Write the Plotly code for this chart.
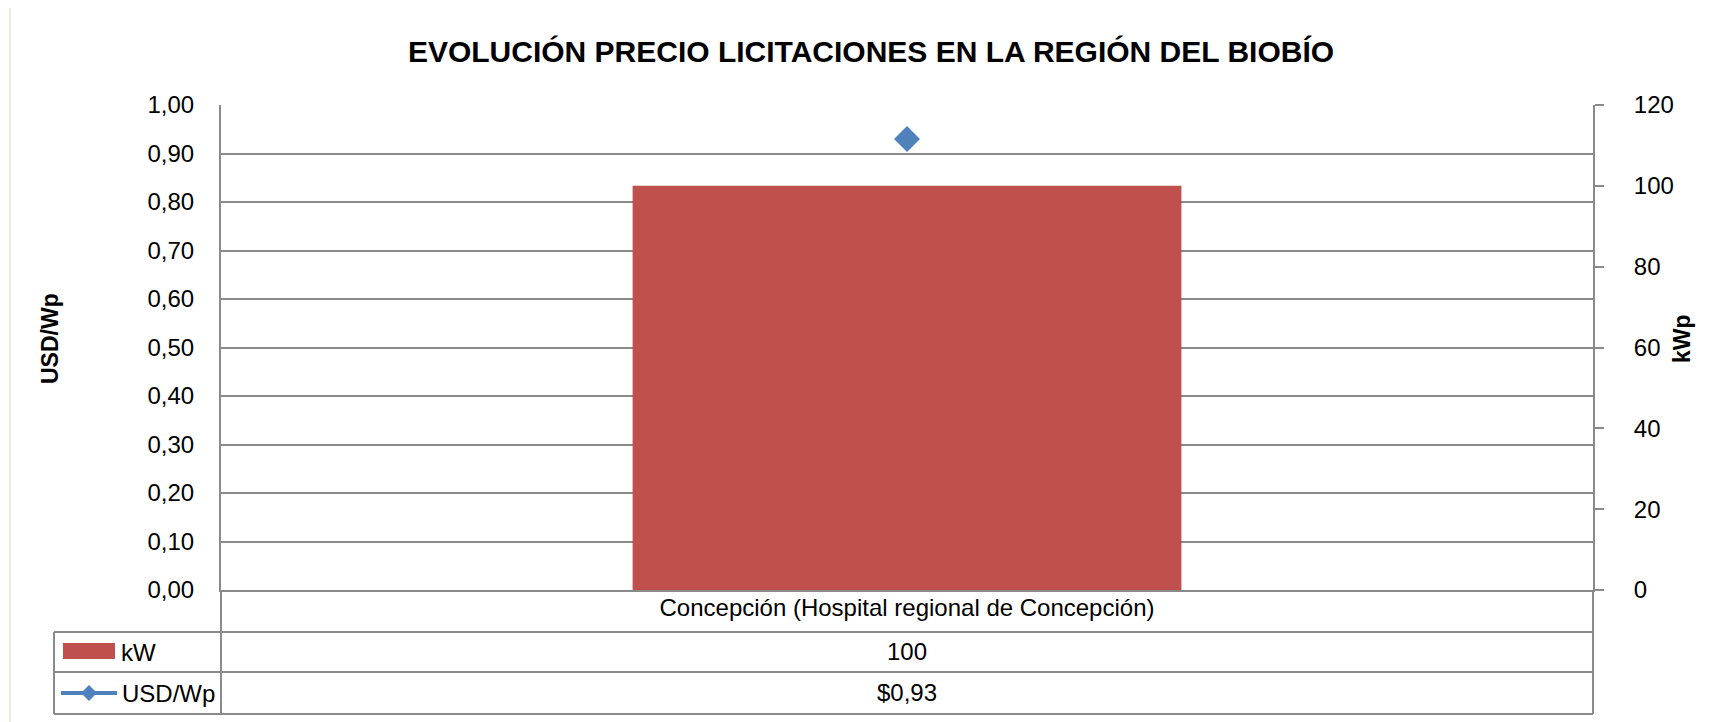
import plotly.graph_objects as go

# datos
categorias = ["Concepción (Hospital regional de Concepción)"]
potencia_kw = [100]
precio_usd_wp = [0.93]

titulo = "EVOLUCIÓN PRECIO LICITACIONES EN LA REGIÓN DEL BIOBÍO"

ROJO = "#C0504D"
AZUL = "#4F81BD"
GRIS = "#8A8A8A"
FUENTE = "Liberation Sans, Arial, sans-serif"

# el body de la pagina deja 8 px de margen
OFF = 8
W, H = 1728 - OFF, 722 - OFF
X0, X1 = 221, 1593   # area de trazado en px de la referencia
Y0, Y1 = 105, 590


def px_x(px):
    return (px - X0) / (X1 - X0)


def px_y(py):
    return (Y1 - py) / (Y1 - Y0)


fig = go.Figure()

fig.add_trace(go.Bar(
    x=categorias, y=potencia_kw, name="kW", yaxis="y2",
    marker=dict(color=ROJO, line=dict(width=0)), width=0.4,
))
fig.add_trace(go.Scatter(
    x=categorias, y=precio_usd_wp, name="USD/Wp", mode="markers",
    marker=dict(symbol="diamond", size=20, color=AZUL),
))

shapes = []


def linea(xa, ya, xb, yb, color=GRIS, ancho=2):
    shapes.append(dict(type="line", xref="paper", yref="paper",
                       x0=px_x(xa), y0=px_y(ya), x1=px_x(xb), y1=px_y(yb),
                       line=dict(color=color, width=ancho), layer="above"))


# tabla de datos bajo el eje
for yy in (632, 672, 714):
    linea(54, yy, X1, yy)
linea(54, 632, 54, 714)
linea(X0, Y1, X0, 714)
linea(X1, Y1, X1, 714)

# borde del area del grafico
linea(10, 7, 10, 760, color="#ECEADF", ancho=2)
linea(10, 7, 1760, 7, color="#ECEADF", ancho=2)

# claves de la leyenda dentro de la tabla
shapes.append(dict(type="rect", xref="paper", yref="paper",
                   x0=px_x(63), x1=px_x(115), y0=px_y(659), y1=px_y(643),
                   fillcolor=ROJO, line=dict(width=0)))
linea(61, 693, 117, 693, color=AZUL, ancho=4)
cx, cy = 89, 693
rombo = "M {} {} L {} {} L {} {} L {} {} Z".format(
    px_x(cx - 8), px_y(cy), px_x(cx), px_y(cy - 8),
    px_x(cx + 8), px_y(cy), px_x(cx), px_y(cy + 8))
shapes.append(dict(type="path", xref="paper", yref="paper", path=rombo,
                   fillcolor=AZUL, line=dict(width=0)))

anot = []
anot.append(dict(text="kW", x=px_x(119), y=px_y(652), xref="paper", yref="paper",
                 xanchor="left", yanchor="middle", showarrow=False,
                 font=dict(family=FUENTE, size=24, color="black")))
anot.append(dict(text="USD/Wp", x=px_x(120), y=px_y(693), xref="paper", yref="paper",
                 xanchor="left", yanchor="middle", showarrow=False,
                 font=dict(family=FUENTE, size=24, color="black")))
for cat, kw, usd in zip(categorias, potencia_kw, precio_usd_wp):
    anot.append(dict(text=f"{kw}", x=cat, xref="x", y=px_y(651), yref="paper",
                     yanchor="middle", showarrow=False,
                     font=dict(family=FUENTE, size=24, color="black")))
    anot.append(dict(text="$" + f"{usd:.2f}".replace(".", ","), x=cat, xref="x",
                     y=px_y(692), yref="paper", yanchor="middle", showarrow=False,
                     font=dict(family=FUENTE, size=24, color="black")))

# titulos de ejes
anot.append(dict(text="<b>USD/Wp</b>", x=px_x(50), y=px_y(339), xref="paper", yref="paper",
                 textangle=-90, showarrow=False, xanchor="center", yanchor="middle",
                 font=dict(family=FUENTE, size=23, color="black")))
anot.append(dict(text="<b>kWp</b>", x=px_x(1682), y=px_y(339), xref="paper", yref="paper",
                 textangle=-90, showarrow=False, xanchor="center", yanchor="middle",
                 font=dict(family=FUENTE, size=23, color="black")))

fig.update_layout(
    width=W, height=H,
    margin=dict(l=X0 - OFF, r=1728 - X1, t=Y0 - OFF, b=722 - Y1, pad=0),
    paper_bgcolor="white", plot_bgcolor="white",
    separators=",.",
    showlegend=False,
    title=dict(text=f"<b>{titulo}</b>", x=(871 - OFF) / W, xanchor="center",
               y=1 - (51 - OFF) / H, yanchor="middle",
               font=dict(family=FUENTE, size=30, color="black")),
    xaxis=dict(showline=True, linecolor=GRIS, linewidth=2, showgrid=False,
               ticks="", tickfont=dict(family=FUENTE, size=24, color="black"),
               ticklabelstandoff=-5),
    yaxis=dict(range=[0, 1], dtick=0.1, tickformat=".2f", showgrid=True,
               gridcolor=GRIS, gridwidth=2, zeroline=False, showline=True,
               linecolor=GRIS, linewidth=2, ticks="", ticklabelstandoff=20,
               tickfont=dict(family=FUENTE, size=24, color="black")),
    yaxis2=dict(range=[0, 120], dtick=20, overlaying="y", side="right",
                showgrid=False, zeroline=False, showline=True, linecolor=GRIS,
                linewidth=2, ticks="outside", ticklen=9, tickwidth=2,
                tickcolor=GRIS, ticklabelstandoff=25,
                tickfont=dict(family=FUENTE, size=24, color="black")),
    shapes=shapes,
    annotations=anot,
)

fig.write_html("out.html")
